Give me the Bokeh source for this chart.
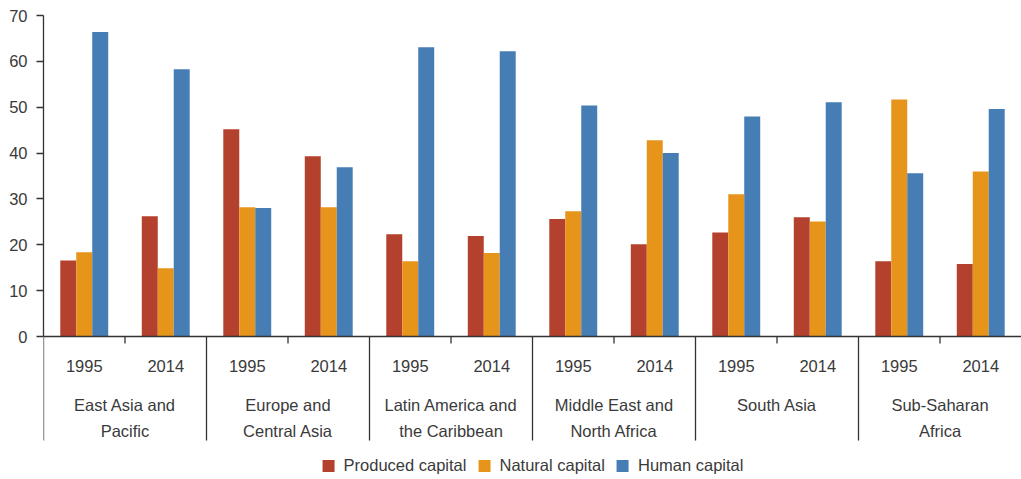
from bokeh.plotting import figure
from bokeh.models import (FactorRange, Range1d, CategoricalAxis, LinearAxis, FixedTicker,
                          Legend, LegendItem, ColumnDataSource)
from bokeh.transform import dodge
from bokeh.embed import file_html
from bokeh.resources import INLINE

# ---- data ----
regions = ["East Asia and\nPacific", "Europe and\nCentral Asia", "Latin America and\nthe Caribbean",
           "Middle East and\nNorth Africa", "South Asia", "Sub-Saharan\nAfrica"]
years = ["1995", "2014"]
series_names = ["Produced capital", "Natural capital", "Human capital"]
produced = [16.6, 26.2, 45.2, 39.3, 22.3, 21.9, 25.6, 20.1, 22.7, 26.0, 16.4, 15.8]
natural = [18.4, 14.9, 28.2, 28.2, 16.4, 18.2, 27.3, 42.8, 31.0, 25.1, 51.7, 36.0]
human = [66.4, 58.3, 28.0, 36.9, 63.1, 62.2, 50.4, 40.0, 48.0, 51.1, 35.6, 49.6]
y_ticks = [0, 10, 20, 30, 40, 50, 60, 70]

# ---- style ----
colors = ["#B4412D", "#E7941B", "#467DB5"]
FONT = "Liberation Sans"
TXT = "#3a3a3a"
AX = "#333333"
FS = "16.5px"

factors = [(r, y) for r in regions for y in years]
source = ColumnDataSource(dict(x=factors, produced=produced, natural=natural, human=human))

x_range = FactorRange(*factors, factor_padding=0, group_padding=0, subgroup_padding=0, range_padding=0)
p = figure(width=1021, height=479, x_range=x_range, y_range=Range1d(-31.18, 70),
           output_backend="svg", toolbar_location=None,
           x_axis_location=None, y_axis_location=None,
           min_border_left=43, min_border_top=15, min_border_bottom=0, min_border_right=0)
p.outline_line_color = None
p.grid.visible = False

yaxis = LinearAxis(bounds=(0, 70), ticker=FixedTicker(ticks=y_ticks),
                   major_tick_out=7, major_tick_in=0, minor_tick_line_color=None,
                   axis_line_color=AX, axis_line_width=1.3, major_tick_line_color=AX,
                   major_tick_line_width=1.3,
                   major_label_text_font=FONT, major_label_text_font_size=FS,
                   major_label_text_color=TXT, major_label_standoff=9)
p.add_layout(yaxis, "left")

w = 0.196
keys = ["produced", "natural", "human"]
renderers = []
for i, (k, c) in enumerate(zip(keys, colors)):
    r = p.vbar(x=dodge("x", (i - 1) * w, range=p.x_range), top=k, width=w, bottom=0,
               source=source, fill_color=c, line_color=None)
    renderers.append(r)

# separators (region boundaries) and short ticks (year boundaries)
sep = ColumnDataSource(dict(x=[(r, years[0], -0.5) for r in regions],
                            y0=[0] * len(regions), y1=[-22.68] * len(regions)))
p.segment(x0="x", y0="y0", x1="x", y1="y1", source=sep, line_color=AX, line_width=1.3)
tk = ColumnDataSource(dict(x=[(r, years[1], -0.5) for r in regions],
                           y0=[0] * len(regions), y1=[-1.53] * len(regions)))
p.segment(x0="x", y0="y0", x1="x", y1="y1", source=tk, line_color=AX, line_width=1.3)

xa = CategoricalAxis(fixed_location=0, axis_line_color=AX, axis_line_width=1.3,
                     major_tick_line_color=None, major_tick_out=0, major_tick_in=0,
                     major_label_standoff=23, major_label_text_font=FONT,
                     major_label_text_font_size=FS, major_label_text_color=TXT,
                     group_text_color=None, separator_line_color=None)
p.add_layout(xa, "below")
xb = CategoricalAxis(fixed_location=0, axis_line_color=None,
                     major_tick_line_color=None, major_tick_out=0, major_tick_in=0,
                     major_label_standoff=59, major_label_text_font=FONT,
                     major_label_text_font_size=FS, major_label_text_color=None,
                     group_text_font=FONT, group_text_font_size=FS, group_text_font_style="normal",
                     group_text_color=TXT, group_text_line_height=1.45,
                     separator_line_color=None)
p.add_layout(xb, "below")

legend = Legend(items=[LegendItem(label=n, renderers=[r]) for n, r in zip(series_names, renderers)],
                orientation="horizontal", location="bottom_center",
                glyph_width=15, glyph_height=15, label_standoff=8, spacing=10,
                padding=0, margin=4, border_line_color=None, background_fill_alpha=0,
                label_text_font=FONT, label_text_font_size=FS, label_text_color=TXT)
p.add_layout(legend)

open("out.html", "w").write(file_html(p, INLINE))
